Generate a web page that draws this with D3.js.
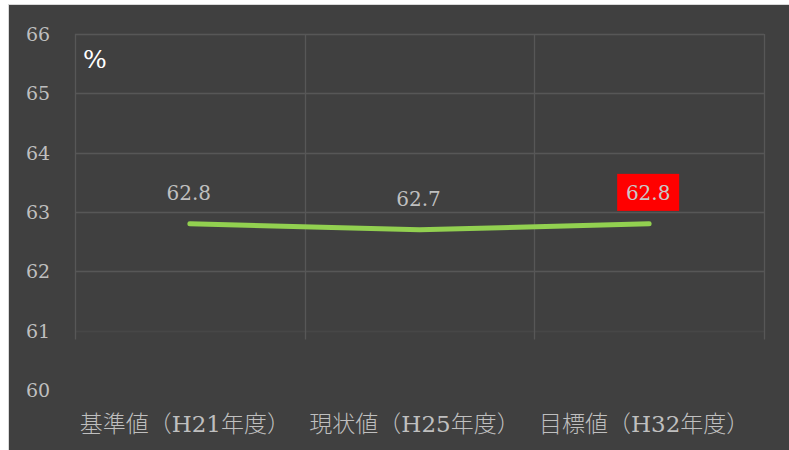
<!DOCTYPE html>
<html><head><meta charset="utf-8">
<script src="https://cdn.jsdelivr.net/npm/d3@7"></script>
<style>body{margin:0;background:#fff;}svg{display:block;}</style>
</head><body>
<script>
const categories = ["基準値（H21年度）", "現状値（H25年度）", "目標値（H32年度）"];
const values = [62.8, 62.7, 62.8];
const valueLabels = ["62.8", "62.7", "62.8"];
const yTicks = [60, 61, 62, 63, 64, 65, 66];
const highlightIndex = 2;

const W = 789, H = 450;
const svg = d3.select("body").append("svg").attr("width", W).attr("height", H);
svg.append("rect").attr("x", 8.5).attr("y", 4.5).attr("width", W).attr("height", H)
  .attr("fill", "#404040").attr("stroke", "#d9d9d9").attr("stroke-width", 1);

const x = d3.scaleBand().domain(categories).range([75, 764]).padding(0);
const y = d3.scaleLinear().domain([60, 66]).range([390, 34]);
const serif = "DejaVu Serif, serif";
const cjk = "DejaVu Serif, Noto Sans CJK JP, serif";

// horizontal gridlines (61..66)
svg.append("g").selectAll("line").data(yTicks.filter(t => t >= 61)).join("line")
  .attr("x1", 75).attr("x2", 764)
  .attr("y1", d => Math.round(y(d)) + 0.5).attr("y2", d => Math.round(y(d)) + 0.5)
  .attr("stroke", d => d === 61 ? "#474747" : "#575757").attr("stroke-width", 1.3);
// vertical gridlines
const vx = [75, ...categories.map(c => x(c) + x.bandwidth())];
svg.append("g").selectAll("line").data(vx).join("line")
  .attr("x1", d => Math.round(d) + 0.5).attr("x2", d => Math.round(d) + 0.5)
  .attr("y1", y(66)).attr("y2", y(60.85))
  .attr("stroke", "#575757").attr("stroke-width", 1.3);

// y tick labels
svg.append("g").selectAll("text").data(yTicks).join("text")
  .attr("x", 38).attr("y", d => y(d) + 7)
  .attr("text-anchor", "middle").attr("fill", "#bfbfbf")
  .attr("font-family", serif).attr("font-size", 19).text(d => d);

// % label
svg.append("text").attr("x", 83).attr("y", 68).attr("fill", "#ffffff")
  .attr("font-family", serif).attr("font-size", 25).text("%");

// category labels
svg.append("g").selectAll("text").data(categories).join("text")
  .attr("x", d => x(d) + x.bandwidth() / 2 - 5).attr("y", 432)
  .attr("text-anchor", "middle").attr("fill", "#bfbfbf").attr("font-weight", 300)
  .attr("font-family", cjk).attr("font-size", 23).text(d => d);

// line
const line = d3.line().x((d, i) => x(categories[i]) + x.bandwidth() / 2).y(d => y(d));
svg.append("path").datum(values).attr("d", line).attr("fill", "none")
  .attr("stroke", "#92d050").attr("stroke-width", 5).attr("stroke-linecap", "round")
  .attr("stroke-linejoin", "round");

// value labels
const lg = svg.append("g");
values.forEach((v, i) => {
  const cx = x(categories[i]) + x.bandwidth() / 2;
  const cy = y(v) - 31;
  if (i === highlightIndex) {
    lg.append("rect").attr("x", cx - 32).attr("y", cy - 19).attr("width", 62).attr("height", 37)
      .attr("fill", "#ff0000");
  }
  lg.append("text").attr("x", cx - 1).attr("y", cy + 7).attr("text-anchor", "middle")
    .attr("fill", i === highlightIndex ? "#c8c8c8" : "#bfbfbf")
    .attr("font-family", serif).attr("font-size", 20).text(valueLabels[i]);
});
</script>
</body></html>
